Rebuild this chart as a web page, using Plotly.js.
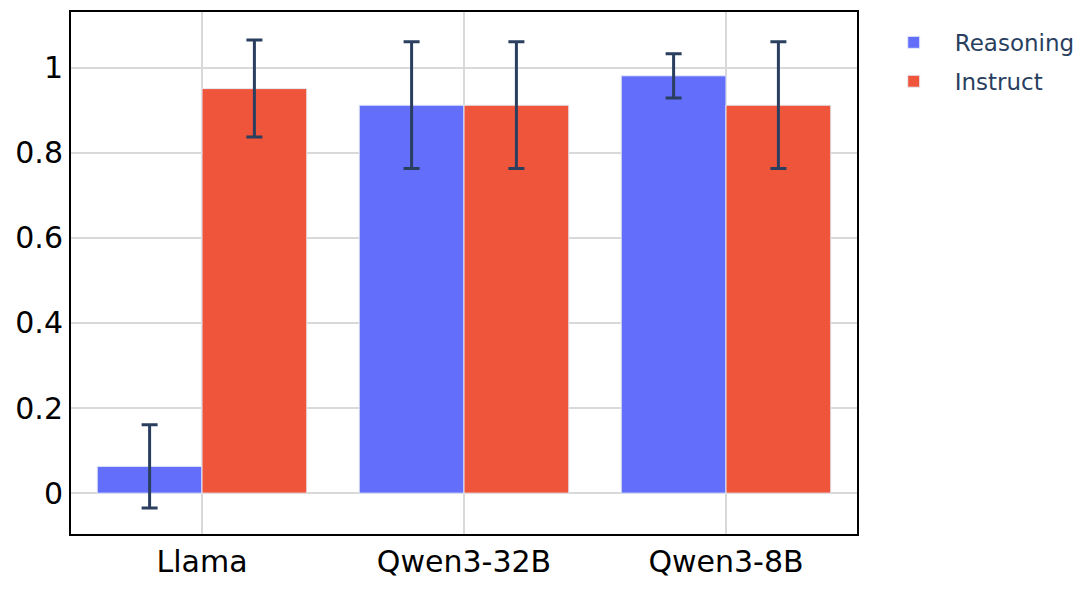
<!DOCTYPE html>
<html><head><meta charset="utf-8">
<script src="https://cdn.plot.ly/plotly-3.0.1.min.js"></script>
<style>body{margin:0;padding:0;background:#fff}</style>
</head><body>
<div id="chart" style="width:1092px;height:596px"></div>
<script>
const categories = ["Llama", "Qwen3-32B", "Qwen3-8B"];
const reasoningValues = [0.063, 0.912, 0.981];
const reasoningErrors = [0.098, 0.149, 0.052];
const instructValues = [0.951, 0.912, 0.912];
const instructErrors = [0.114, 0.149, 0.149];

const errStyle = {type: "data", visible: true, color: "#2a3f5f", thickness: 3, width: 8};
const traces = [
  {type: "bar", name: "Reasoning", legendgroup: "r", x: categories, y: reasoningValues,
   marker: {color: "#636efa", line: {color: "#E5ECF6", width: 1}},
   error_y: Object.assign({array: reasoningErrors}, errStyle)},
  {type: "bar", name: "Instruct", legendgroup: "i", x: categories, y: instructValues,
   marker: {color: "#EF553B", line: {color: "#E5ECF6", width: 1}},
   error_y: Object.assign({array: instructErrors}, errStyle)}
];
const layout = {
  width: 1092, height: 596,
  margin: {l: 71, r: 233, t: 12, b: 62},
  paper_bgcolor: "#fff", plot_bgcolor: "#fff",
  barmode: "group", bargap: 0.2, bargroupgap: 0,
  font: {family: "DejaVu Sans, Verdana, sans-serif", color: "#2a3f5f"},
  xaxis: {showgrid: true, gridcolor: "#d9d9d9", gridwidth: 1.5,
    showline: true, linecolor: "black", linewidth: 2, mirror: true,
    tickfont: {size: 30, color: "black"}, ticks: ""},
  yaxis: {range: [-0.096, 1.131], showgrid: true, gridcolor: "#d9d9d9", gridwidth: 1.5,
    zeroline: false, showline: true, linecolor: "black", linewidth: 2, mirror: true,
    tickfont: {size: 30, color: "black"}, dtick: 0.2, ticks: ""},
  legend: {font: {size: 23, color: "#2a3f5f"}, x: 1.02, y: 0.983, yanchor: "top",
    itemwidth: 72, traceorder: "grouped", tracegroupgap: 6},
  showlegend: true
};
Plotly.newPlot("chart", traces, layout, {displayModeBar: false});
</script>
</body></html>
